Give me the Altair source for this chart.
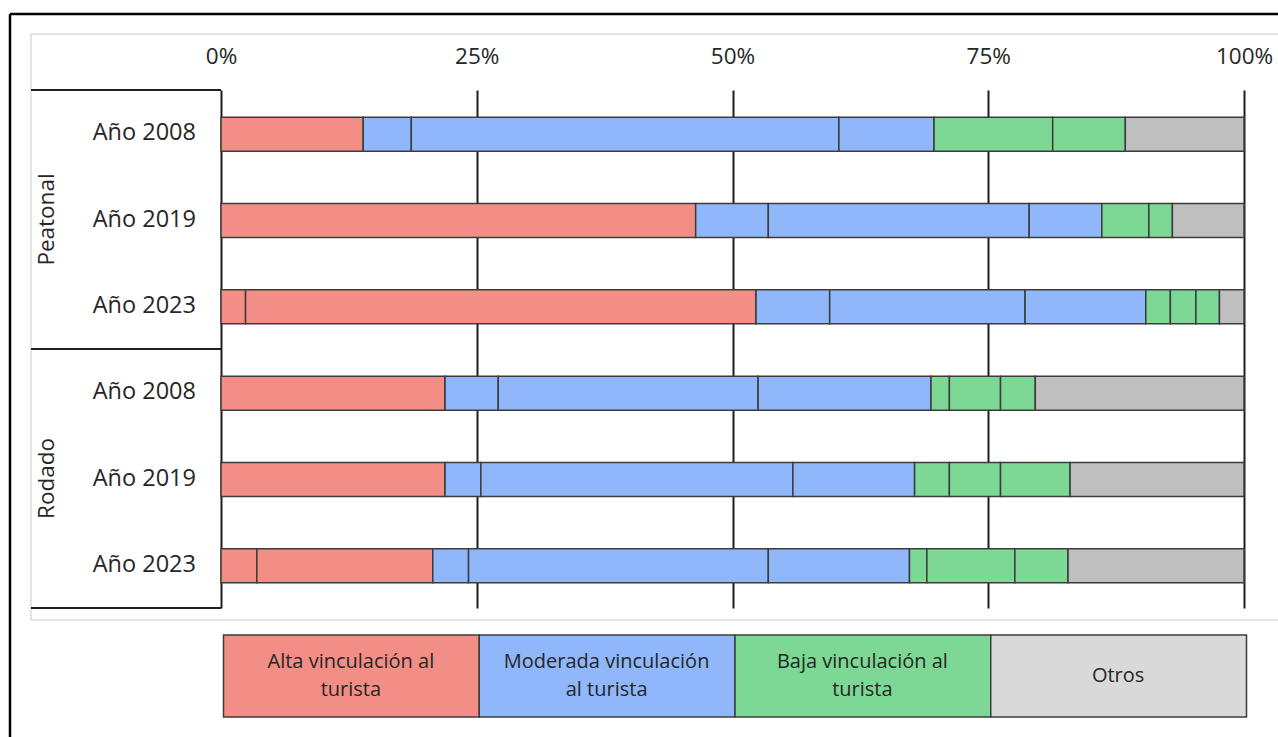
import altair as alt
import pandas as pd

groups = ["Alta vinculación al turista", "Moderada vinculación al turista",
          "Baja vinculación al turista", "Otros"]
bar_colors = ["#F28E86", "#8FB7FA", "#7DD895", "#BFBFBF"]
legend_colors = ["#F28E86", "#8FB7FA", "#7DD895", "#D9D9D9"]
legend_text = ["Alta vinculación al\nturista", "Moderada vinculación\nal turista",
               "Baja vinculación al\nturista", "Otros"]

modes = ["Peatonal", "Peatonal", "Peatonal", "Rodado", "Rodado", "Rodado"]
years = ["Año 2008", "Año 2019", "Año 2023", "Año 2008", "Año 2019", "Año 2023"]

# segment shares (%) per row, by group
alta = [[13.9], [46.4], [2.4, 49.9], [21.9], [21.9], [3.5, 17.2]]
moderada = [[4.7, 41.8, 9.3], [7.1, 25.5, 7.1], [7.2, 19.1, 11.8],
            [5.2, 25.4, 16.9], [3.5, 30.5, 11.9], [3.5, 29.3, 13.8]]
baja = [[11.6, 7.1], [4.6, 2.3], [2.4, 2.5, 2.3],
        [1.8, 5.0, 3.4], [3.4, 5.0, 6.8], [1.7, 8.6, 5.2]]
otros = [[11.6], [7.0], [2.4], [20.4], [17.0], [17.2]]

ticks = [0, 25, 50, 75, 100]

keys = [f"{m}|{y}" for m, y in zip(modes, years)]
recs = []
for i, k in enumerate(keys):
    cum = 0.0
    for g, lists in zip(groups, [alta, moderada, baja, otros]):
        for v in lists[i]:
            recs.append({"key": k, "group": g, "x0": cum, "x1": cum + v})
            cum += v
seg = pd.DataFrame(recs)
rows_df = pd.DataFrame({"key": keys, "year": years, "mode": modes})
mode_df = pd.DataFrame({"key": [keys[1], keys[4]], "mode": ["Peatonal", "Rodado"]})
leg_df = pd.DataFrame({
    "group": groups,
    "label": legend_text,
    "start": [ticks[i] for i in range(4)],
    "end": [ticks[i + 1] for i in range(4)],
    "mid": [(ticks[i] + ticks[i + 1]) / 2 for i in range(4)],
})

FONT = "Open Sans"
TXT = "#262626"
xs = alt.Scale(domain=[0, 100], nice=False, zero=True)
xaxis = alt.Axis(orient="top", values=ticks, labelExpr="datum.value + '%'",
                 domain=False, ticks=False, grid=True, gridColor="#1E1E1E",
                 gridWidth=2, labelFontSize=22.5, labelFont=FONT, labelColor=TXT,
                 labelPadding=22, title=None, labelFlush=False)
ys = alt.Y("key:N", sort=keys, scale=alt.Scale(domain=keys, paddingInner=0, paddingOuter=0),
           axis=None)

one = pd.DataFrame({"a": [0]})

bars = alt.Chart(seg).mark_bar(size=34, stroke="#3C3C3C", strokeWidth=1.5, yOffset=1).encode(
    x=alt.X("x0:Q", scale=xs, axis=xaxis),
    x2="x1:Q",
    y=ys,
    color=alt.Color("group:N", scale=alt.Scale(domain=groups, range=bar_colors), legend=None),
)

year_lab = alt.Chart(rows_df).mark_text(align="right", baseline="middle", fontSize=23.5,
                                        font=FONT, color=TXT).encode(
    x=alt.value(-25), y=ys, text="year:N")

mode_lab = alt.Chart(mode_df).mark_text(angle=270, align="center", baseline="middle",
                                        fontSize=22.5, font=FONT, color=TXT).encode(
    x=alt.value(-174), y=ys, text="mode:N")


def rule(x1, x2, y1, y2, color="#1E1E1E", w=2.0):
    return alt.Chart(one).mark_rule(color=color, strokeWidth=w).encode(
        x=alt.value(x1), x2=alt.value(x2), y=alt.value(y1), y2=alt.value(y2))


frame_inner = alt.Chart(one).mark_rect(fill="transparent", stroke="#C8C8C8", strokeWidth=1).encode(
    x=alt.value(-190), x2=alt.value(1060), y=alt.value(-56), y2=alt.value(530))

lines = [
    frame_inner,
    rule(-211, -211, -76, 660, "#000000", 2.5),
    rule(-211, 1060, -76, -76, "#000000", 2.5),
    rule(-190, 0, 0, 0),
    rule(-190, 0, 259, 259),
    rule(-190, 0, 518, 518),
]

leg_rect = alt.Chart(leg_df).mark_rect(stroke="#3C3C3C", strokeWidth=1.5, xOffset=2.5, x2Offset=2.5).encode(
    x=alt.X("start:Q", scale=xs, axis=xaxis),
    x2="end:Q",
    y=alt.value(545), y2=alt.value(627),
    color=alt.Color("group:N", scale=alt.Scale(domain=groups, range=legend_colors), legend=None),
)
leg_text2 = alt.Chart(leg_df).transform_filter(
    "indexof(datum.label, '\\n') >= 0"
).mark_text(lineBreak="\n", lineHeight=28, fontSize=20, font=FONT,
            color=TXT, align="center", baseline="middle", xOffset=2).encode(
    x=alt.X("mid:Q", scale=xs, axis=xaxis),
    y=alt.value(572),
    text="label:N",
)
leg_text1 = alt.Chart(leg_df).transform_filter(
    "indexof(datum.label, '\\n') < 0"
).mark_text(fontSize=20, font=FONT, color=TXT, align="center", baseline="middle",
            xOffset=2).encode(
    x=alt.X("mid:Q", scale=xs, axis=xaxis),
    y=alt.value(586),
    text="label:N",
)

chart = alt.layer(*lines, bars, year_lab, mode_lab, leg_rect, leg_text2, leg_text1).resolve_scale(
    color="independent"
).properties(
    width=1023, height=518,
    autosize=alt.AutoSizeParams(type="none"),
    padding={"left": 221, "top": 90, "right": 34, "bottom": 129},
    background="white",
).configure_view(strokeWidth=0)

chart.save("out.html", embed_options={"renderer": "svg", "actions": False})
